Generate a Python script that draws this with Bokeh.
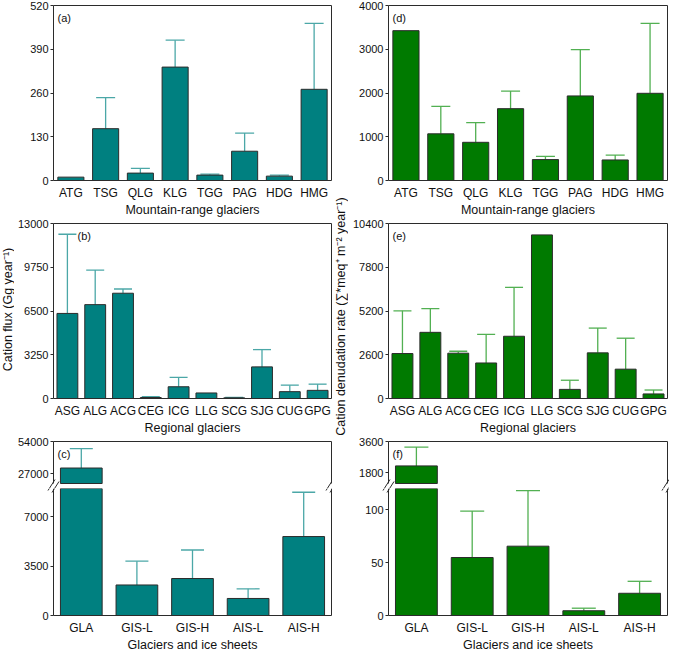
import math
from bokeh.plotting import figure
from bokeh.models import (ColumnDataSource, Range1d, FixedTicker, Whisker, TeeHead, Label,
                          LinearAxis)
from bokeh.layouts import row, column
from bokeh.embed import file_html
from bokeh.resources import INLINE

# ---------------- data ----------------
mtn_cats = ["ATG", "TSG", "QLG", "KLG", "TGG", "PAG", "HDG", "HMG"]
a_vals = [10, 154, 22, 337, 16, 87, 13, 271]
a_err = [0, 92, 14, 80, 3, 54, 3, 196]
d_vals = [3425, 1067, 873, 1642, 478, 1933, 470, 1993]
d_err = [0, 627, 448, 403, 74, 1060, 112, 1597]

reg_cats = ["ASG", "ALG", "ACG", "CEG", "ICG", "LLG", "SCG", "SJG", "CUG", "GPG"]
b_vals = [6319, 6973, 7820, 73, 872, 412, 48, 2349, 508, 605]
b_err = [5884, 2567, 316, 72, 702, 0, 25, 1283, 485, 460]
e_vals = [2673, 3932, 2692, 2111, 3699, 9723, 542, 2712, 1743, 271]
e_err = [2537, 1414, 116, 1705, 2906, 0, 543, 1472, 1840, 233]

ice_cats = ["GLA", "GIS-L", "GIS-H", "AIS-L", "AIS-H"]
c_vals = [31900, 2163, 2620, 1208, 5594]
c_err = [16200, 1685, 2020, 682, 3139]
f_vals = [2194, 54.8, 65.5, 4.5, 21]
f_err = [1086, 43.9, 52.5, 2.4, 11.3]

a_ticks = [0, 130, 260, 390, 520]
d_ticks = [0, 1000, 2000, 3000, 4000]
b_ticks = [0, 3250, 6500, 9750, 13000]
e_ticks = [0, 2600, 5200, 7800, 10400]
c_top_ticks = [27000, 54000]
c_bot_ticks = [0, 3500, 7000]
f_top_ticks = [1800, 3600]
f_bot_ticks = [0, 50, 100]

# ---------------- style / layout ----------------
FONT = "Liberation Sans"
TEAL, TEAL_ERR = "#008080", "#4ba7a7"
GREEN, GREEN_ERR = "#007a00", "#52b052"
EDGE = "#2b2b2b"
TXT = "#111111"
TICK_FS = "11px"
CAT_FS = "12px"
TITLE_FS = "12.5px"

BOT_PAD = 37                      # space below a frame for labels
ROW1 = dict(H=217, yt=5)
ROW2 = dict(H=218, yt=6)
ROW3 = dict(H=217, yt=6, upper=42, gap=5)
TOTAL_H = ROW1["H"] + ROW2["H"] + ROW3["H"]
LEFT_COL = dict(W=318, xl=39, xr=317)
RIGHT_COL = dict(W=321, xl=40, xr=319)


def make_fig(W, H, xl, xr, yt, yb, n, ymin, ymax):
    """Figure whose frame is the whole canvas; the visible box [0,n]x[ymin,ymax]
    sits at pixels xl..xr, yt..yb."""
    sx = (xr - xl) / n
    sy = (yb - yt) / (ymax - ymin)
    p = figure(width=W, height=H,
               x_range=Range1d(-xl / sx, n + (W - xr) / sx),
               y_range=Range1d(ymin - (H - yb) / sy, ymax + yt / sy),
               output_backend="svg", toolbar_location=None,
               x_axis_location=None, y_axis_location=None,
               min_border=0, outline_line_color=None)
    p.grid.visible = False
    p.background_fill_color = "white"
    p.border_fill_color = "white"
    return p, sx, sy


def plain_axis(loc, bounds, ticks=(), **kw):
    opts = dict(major_tick_out=0, major_tick_in=0, minor_tick_out=0, minor_tick_in=0,
                minor_tick_line_color=None, axis_line_color=EDGE, axis_line_width=1,
                major_tick_line_color=EDGE, major_label_text_font=FONT,
                major_label_text_color=TXT)
    opts.update(kw)
    return LinearAxis(fixed_location=loc, bounds=bounds,
                      ticker=FixedTicker(ticks=list(ticks)), **opts)


def left_axis(p, ymin, ymax, ticks):
    p.add_layout(plain_axis(0, (ymin, ymax), ticks, major_tick_out=3, major_label_standoff=2,
                            major_label_text_font_size=TICK_FS), "left")


def right_line(p, n, ymin, ymax):
    p.add_layout(plain_axis(n, (ymin, ymax)), "right")


def top_line(p, n, ymax):
    p.add_layout(plain_axis(ymax, (0, n)), "above")


def bottom_axis(p, n, ymin, cats, title):
    centers = [i + 0.5 for i in range(n)]
    p.add_layout(plain_axis(ymin, (0, n), centers, major_label_standoff=5,
                            major_label_text_font_size=CAT_FS,
                            major_label_overrides={c: t for c, t in zip(centers, cats)}),
                 "below")
    p.add_layout(Label(x=n / 2, y=BOT_PAD - 29, y_units="screen", text=title,
                       text_align="center", text_baseline="middle", text_font=FONT,
                       text_font_size=TITLE_FS, text_color=TXT))


def panel_label(p, text, dx, H, yt):
    p.add_layout(Label(x=0, x_offset=dx, y=H - yt - 6, y_units="screen", text=text,
                       text_baseline="top", text_align="left", text_font=FONT,
                       text_font_size=TICK_FS, text_color=TXT))


def bars(p, cats, vals, errs, base, fill, errc, cap, keep_bar, keep_err):
    xs = [i + 0.5 for i in range(len(cats))]
    bx = [x for x, v in zip(xs, vals) if keep_bar(v)]
    bv = [v for v in vals if keep_bar(v)]
    p.vbar(x="x", top="v", bottom=base, width=0.75, fill_color=fill, line_color=EDGE,
           line_width=1, source=ColumnDataSource(dict(x=bx, v=bv)))
    wx, wl, wu = [], [], []
    for x, v, e in zip(xs, vals, errs):
        if e > 0 and keep_err(v):
            wx.append(x); wl.append(v); wu.append(v + e)
    if wx:
        p.add_layout(Whisker(base="x", lower="lo", upper="up", dimension="height",
                             source=ColumnDataSource(dict(x=wx, lo=wl, up=wu)),
                             line_color=errc, line_width=1.3,
                             upper_head=TeeHead(size=cap, line_color=errc, line_width=1.3),
                             lower_head=None))


def full_panel(col, rw, cats, vals, errs, ticks, fill, errc, title, lab, dx, cap):
    n = len(cats)
    H, yt = rw["H"], rw["yt"]
    ymin, ymax = ticks[0], ticks[-1]
    p, sx, sy = make_fig(col["W"], H, col["xl"], col["xr"], yt, H - BOT_PAD,
                         n, ymin, ymax)
    bars(p, cats, vals, errs, ymin, fill, errc, cap, lambda v: True, lambda v: True)
    left_axis(p, ymin, ymax, ticks)
    right_line(p, n, ymin, ymax)
    top_line(p, n, ymax)
    bottom_axis(p, n, ymin, cats, title)
    panel_label(p, lab, dx, H, yt)
    return p


STROKES = [((-5.5, -4.5), (1.5, 6.5)), ((-1.5, -6.5), (5.5, 4.5))]   # pixel offsets


def break_marks(p, n, yc, sx, sy):
    x0, y0, x1, y1 = [], [], [], []
    for cx in (0, n):
        for (a, b), (c, d) in STROKES:
            x0.append(cx + a / sx); y0.append(yc + b / sy)
            x1.append(cx + c / sx); y1.append(yc + d / sy)
    p.segment(x0=x0, y0=y0, x1=x1, y1=y1, line_color=EDGE, line_width=1)


def broken_panel(col, rw, cats, vals, errs, top_ticks, top_min, bot_ticks, bot_max,
                 fill, errc, title, lab, cap):
    n = len(cats)
    top_max = top_ticks[-1]
    bot_min = bot_ticks[0]
    yt, gap = rw["yt"], rw["gap"]
    top_h = yt + rw["upper"] + gap
    bot_h = rw["H"] - top_h
    # upper part
    pt, sxt, syt = make_fig(col["W"], top_h, col["xl"], col["xr"], yt, top_h - gap,
                            n, top_min, top_max)
    bars(pt, cats, vals, errs, top_min, fill, errc, cap,
         lambda v: v > bot_max, lambda v: v > bot_max)
    left_axis(pt, top_min, top_max, top_ticks)
    right_line(pt, n, top_min, top_max)
    top_line(pt, n, top_max)
    panel_label(pt, lab, 4, top_h, yt)
    break_marks(pt, n, top_min - (gap / 2) / syt, sxt, syt)
    # lower part
    pb, sxb, syb = make_fig(col["W"], bot_h, col["xl"], col["xr"], 0, bot_h - BOT_PAD,
                            n, bot_min, bot_max)
    bars(pb, cats, vals, errs, bot_min, fill, errc, cap,
         lambda v: True, lambda v: v <= bot_max)
    left_axis(pb, bot_min, bot_max, bot_ticks)
    right_line(pb, n, bot_min, bot_max)
    bottom_axis(pb, n, bot_min, cats, title)
    break_marks(pb, n, bot_max + (gap / 2) / syb, sxb, syb)
    return column(pt, pb, spacing=0)


def label_fig(w, h, y_page, text):
    p = figure(width=w, height=h, x_range=Range1d(0, 1), y_range=Range1d(0, h),
               output_backend="svg", toolbar_location=None, x_axis_location=None,
               y_axis_location=None, min_border=0, outline_line_color=None)
    p.grid.visible = False
    p.add_layout(Label(x=0.5, y=h - y_page, text=text, angle=math.pi / 2,
                       text_align="center", text_baseline="middle", text_font=FONT,
                       text_font_size=TITLE_FS, text_color=TXT))
    return p


pa = full_panel(LEFT_COL, ROW1, mtn_cats, a_vals, a_err, a_ticks, TEAL, TEAL_ERR,
                "Mountain-range glaciers", "(a)", 4, 19)
pb = full_panel(LEFT_COL, ROW2, reg_cats, b_vals, b_err, b_ticks, TEAL, TEAL_ERR,
                "Regional glaciers", "(b)", 24, 18)
pc = broken_panel(LEFT_COL, ROW3, ice_cats, c_vals, c_err, c_top_ticks, 19000, c_bot_ticks,
                  9000, TEAL, TEAL_ERR, "Glaciers and ice sheets", "(c)", 23)

pd = full_panel(RIGHT_COL, ROW1, mtn_cats, d_vals, d_err, d_ticks, GREEN, GREEN_ERR,
                "Mountain-range glaciers", "(d)", 4, 19)
pe = full_panel(RIGHT_COL, ROW2, reg_cats, e_vals, e_err, e_ticks, GREEN, GREEN_ERR,
                "Regional glaciers", "(e)", 4, 18)
pf = broken_panel(RIGHT_COL, ROW3, ice_cats, f_vals, f_err, f_top_ticks, 1180, f_bot_ticks,
                  120, GREEN, GREEN_ERR, "Glaciers and ice sheets", "(f)", 24)

lab_l = label_fig(14, TOTAL_H, 309, "Cation flux (Gg year⁻¹)")
lab_r = label_fig(16, TOTAL_H, 316, "Cation denudation rate (∑*meq⁺ m⁻² year⁻¹)")

left = column(pa, pb, pc, spacing=0)
right = column(pd, pe, pf, spacing=0)
layout = row(lab_l, left, lab_r, right, spacing=0)

open("out.html", "w").write(file_html(layout, INLINE))
